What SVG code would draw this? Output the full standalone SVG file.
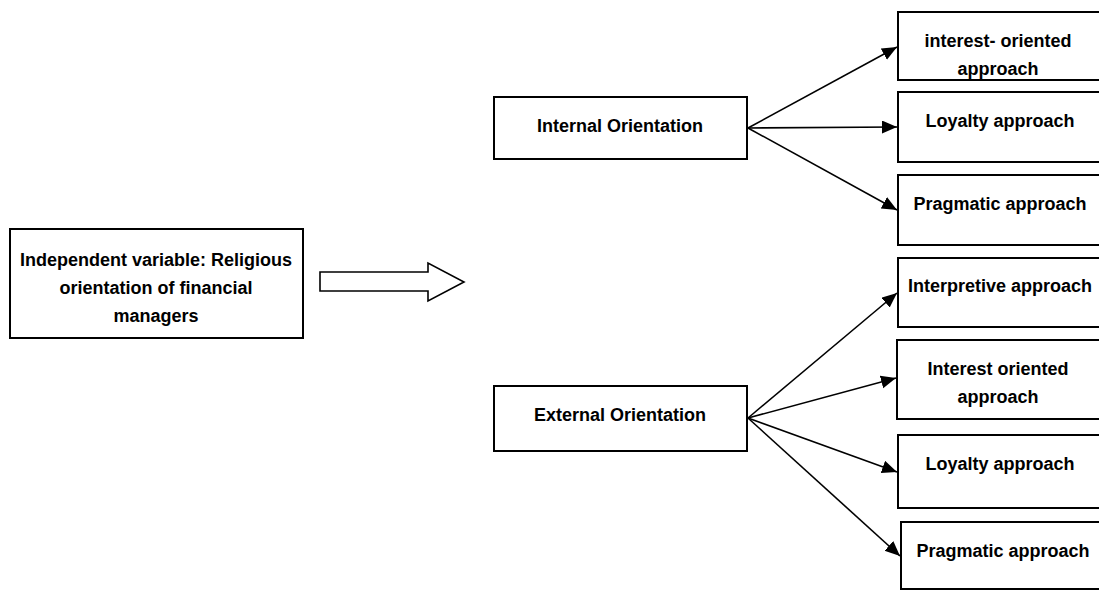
<svg xmlns="http://www.w3.org/2000/svg" width="1099" height="590" viewBox="0 0 1099 590">
<defs>
<style>
.box{fill:#fff;stroke:#000;stroke-width:2}
.lbl{font-family:"Liberation Sans",Arial,sans-serif;font-weight:bold;font-size:18px;fill:#000;text-anchor:middle}
.conn{stroke:#000;stroke-width:1.6;fill:none;marker-end:url(#ah)}
</style>
<marker id="ah" markerUnits="userSpaceOnUse" markerWidth="16" markerHeight="14" refX="15" refY="6.5" orient="auto">
<path d="M0,0 L15,6.5 L0,13 z" fill="#000"/>
</marker>
</defs>
<rect width="1099" height="590" fill="#fff"/>
<g id="independent">
<rect class="box" x="10" y="229" width="293" height="109"/>
<text class="lbl" x="156" y="266">Independent variable: Religious</text>
<text class="lbl" x="156" y="294">orientation of financial</text>
<text class="lbl" x="156" y="322">managers</text>
</g>
<g id="block-arrow">
<path d="M320,272 L428,272 L428,263 L464,282 L428,301 L428,291 L320,291 Z" fill="#fff" stroke="#000" stroke-width="1.6" stroke-linejoin="miter"/>
</g>
<g id="internal">
<rect class="box" x="494" y="97" width="253" height="62"/>
<text class="lbl" x="620" y="132">Internal Orientation</text>
</g>
<g id="external">
<rect class="box" x="494" y="386" width="253" height="65"/>
<text class="lbl" x="620" y="421">External Orientation</text>
</g>
<g id="int-interest">
<rect class="box" x="898" y="12" width="210" height="68"/>
<text class="lbl" x="998" y="47">interest- oriented</text>
<text class="lbl" x="998" y="75">approach</text>
</g>
<g id="int-loyalty">
<rect class="box" x="898" y="92" width="210" height="70"/>
<text class="lbl" x="1000" y="127">Loyalty approach</text>
</g>
<g id="int-pragmatic">
<rect class="box" x="898" y="175" width="210" height="70"/>
<text class="lbl" x="1000" y="210">Pragmatic approach</text>
</g>
<g id="ext-interpretive">
<rect class="box" x="898" y="258" width="210" height="69"/>
<text class="lbl" x="1000" y="292">Interpretive approach</text>
</g>
<g id="ext-interest">
<rect class="box" x="897" y="340" width="210" height="79"/>
<text class="lbl" x="998" y="375">Interest oriented</text>
<text class="lbl" x="998" y="403">approach</text>
</g>
<g id="ext-loyalty">
<rect class="box" x="898" y="435" width="210" height="73"/>
<text class="lbl" x="1000" y="470">Loyalty approach</text>
</g>
<g id="ext-pragmatic">
<rect class="box" x="901" y="522" width="210" height="67"/>
<text class="lbl" x="1003" y="557">Pragmatic approach</text>
</g>
<g id="connectors">
<line class="conn" x1="748" y1="128" x2="897" y2="47"/>
<line class="conn" x1="748" y1="128" x2="897" y2="127"/>
<line class="conn" x1="748" y1="128" x2="897" y2="210"/>
<line class="conn" x1="748" y1="418" x2="897" y2="293"/>
<line class="conn" x1="748" y1="418" x2="896" y2="378"/>
<line class="conn" x1="748" y1="418" x2="897" y2="472"/>
<line class="conn" x1="748" y1="418" x2="900" y2="556"/>
</g>
</svg>
